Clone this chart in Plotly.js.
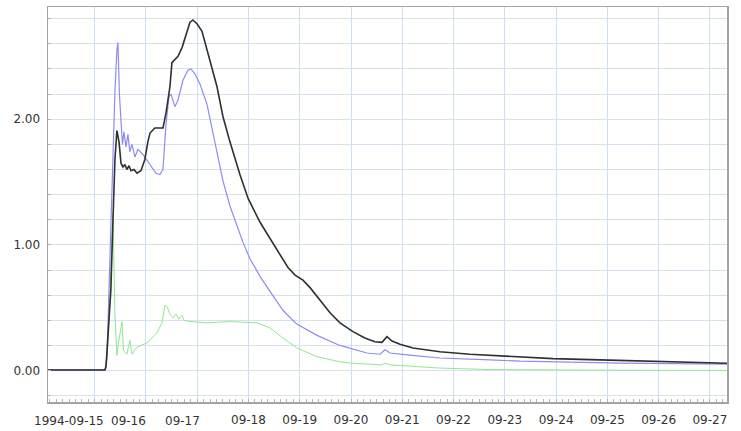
<!DOCTYPE html>
<html>
<head>
<meta charset="utf-8">
<script src="https://cdn.plot.ly/plotly-3.0.1.min.js"></script>
<style>html,body{margin:0;padding:0;background:#fff;}#chart{width:741px;height:431px;}</style>
</head>
<body>
<div id="chart"></div>
<script>
const blackTime = ['1994-09-14 02:00','1994-09-15 04:50','1994-09-15 05:20','1994-09-15 06:10','1994-09-15 07:35','1994-09-15 08:35','1994-09-15 09:30','1994-09-15 10:25','1994-09-15 11:25','1994-09-15 12:20','1994-09-15 13:15','1994-09-15 14:10','1994-09-15 15:05','1994-09-15 16:05','1994-09-15 17:00','1994-09-15 18:25','1994-09-15 19:50','1994-09-15 21:40','1994-09-15 23:30','1994-09-16 00:55','1994-09-16 01:55','1994-09-16 04:10','1994-09-16 08:00','1994-09-16 09:25','1994-09-16 11:15','1994-09-16 12:10','1994-09-16 15:00','1994-09-16 16:55','1994-09-16 18:50','1994-09-16 20:35','1994-09-16 22:00','1994-09-16 23:55','1994-09-17 02:15','1994-09-17 05:30','1994-09-17 09:15','1994-09-17 12:05','1994-09-17 15:20','1994-09-17 20:00','1994-09-17 23:50','1994-09-18 05:25','1994-09-18 10:05','1994-09-18 14:50','1994-09-18 18:30','1994-09-18 21:50','1994-09-19 01:30','1994-09-19 04:50','1994-09-19 09:30','1994-09-19 14:10','1994-09-19 18:50','1994-09-20 00:55','1994-09-20 06:30','1994-09-20 11:10','1994-09-20 14:30','1994-09-20 16:50','1994-09-20 19:10','1994-09-20 22:55','1994-09-21 05:00','1994-09-21 17:40','1994-09-22 07:40','1994-09-22 23:05','1994-09-23 22:30','1994-09-24 20:30','1994-09-25 20:00','1994-09-26 19:20','1994-09-27 08:00'];
const blackValue = [0.005,0.005,0.03,0.25,0.64,1.2,1.68,1.91,1.82,1.65,1.62,1.64,1.60,1.63,1.59,1.60,1.57,1.59,1.68,1.82,1.89,1.93,1.93,2.05,2.26,2.45,2.50,2.57,2.68,2.77,2.79,2.76,2.70,2.50,2.26,2.02,1.82,1.56,1.37,1.18,1.05,0.92,0.82,0.76,0.72,0.66,0.56,0.46,0.38,0.31,0.26,0.23,0.225,0.27,0.235,0.21,0.18,0.15,0.13,0.115,0.095,0.085,0.073,0.063,0.058];

const blueTime = ['1994-09-14 02:00','1994-09-15 04:50','1994-09-15 05:45','1994-09-15 07:10','1994-09-15 08:35','1994-09-15 09:30','1994-09-15 10:25','1994-09-15 10:55','1994-09-15 11:35','1994-09-15 12:20','1994-09-15 13:00','1994-09-15 13:43','1994-09-15 14:40','1994-09-15 15:35','1994-09-15 16:30','1994-09-15 17:28','1994-09-15 18:52','1994-09-15 20:16','1994-09-15 22:36','1994-09-16 01:53','1994-09-16 04:41','1994-09-16 06:34','1994-09-16 07:58','1994-09-16 09:22','1994-09-16 10:47','1994-09-16 11:43','1994-09-16 13:35','1994-09-16 14:59','1994-09-16 17:20','1994-09-16 19:40','1994-09-16 21:05','1994-09-16 22:57','1994-09-17 01:18','1994-09-17 04:34','1994-09-17 07:23','1994-09-17 09:43','1994-09-17 12:04','1994-09-17 15:20','1994-09-17 18:37','1994-09-17 21:26','1994-09-18 00:42','1994-09-18 05:24','1994-09-18 10:05','1994-09-18 16:07','1994-09-18 20:48','1994-09-18 22:40','1994-09-19 08:05','1994-09-19 18:48','1994-09-20 07:30','1994-09-20 13:35','1994-09-20 15:55','1994-09-20 18:15','1994-09-21 02:15','1994-09-21 17:40','1994-09-22 17:00','1994-09-23 07:05','1994-09-25 05:55','1994-09-27 08:00'];
const blueValue = [0.005,0.005,0.1,0.9,1.8,2.22,2.55,2.61,2.2,1.92,1.80,1.90,1.78,1.88,1.74,1.80,1.70,1.76,1.72,1.64,1.57,1.56,1.60,1.95,2.18,2.20,2.10,2.15,2.31,2.39,2.40,2.36,2.28,2.12,1.88,1.70,1.51,1.31,1.15,1.02,0.89,0.75,0.63,0.48,0.40,0.37,0.28,0.20,0.14,0.13,0.165,0.14,0.125,0.10,0.085,0.075,0.06,0.052];

const greenTime = ['1994-09-14 02:00','1994-09-15 04:50','1994-09-15 06:10','1994-09-15 07:35','1994-09-15 08:35','1994-09-15 09:30','1994-09-15 10:25','1994-09-15 11:25','1994-09-15 12:50','1994-09-15 13:30','1994-09-15 15:05','1994-09-15 16:30','1994-09-15 17:30','1994-09-15 18:55','1994-09-15 20:15','1994-09-16 00:30','1994-09-16 05:10','1994-09-16 07:30','1994-09-16 08:55','1994-09-16 09:50','1994-09-16 11:15','1994-09-16 12:40','1994-09-16 14:05','1994-09-16 15:30','1994-09-16 16:55','1994-09-16 17:50','1994-09-16 20:35','1994-09-17 04:35','1994-09-17 15:20','1994-09-18 04:00','1994-09-18 10:05','1994-09-18 16:05','1994-09-18 22:40','1994-09-19 08:05','1994-09-19 18:50','1994-09-19 23:35','1994-09-20 14:30','1994-09-20 15:55','1994-09-20 18:15','1994-09-21 17:40','1994-09-22 17:00','1994-09-24 20:30','1994-09-27 08:00'];
const greenValue = [0.003,0.003,0.2,0.8,1.25,0.45,0.12,0.25,0.39,0.16,0.13,0.24,0.13,0.17,0.19,0.22,0.30,0.38,0.52,0.51,0.45,0.42,0.45,0.41,0.44,0.40,0.39,0.38,0.39,0.38,0.34,0.26,0.18,0.11,0.07,0.06,0.045,0.06,0.045,0.02,0.008,0.003,0.0];

const xTickVals = ['1994-09-15','1994-09-16','1994-09-17','1994-09-18','1994-09-19','1994-09-20','1994-09-21','1994-09-22','1994-09-23','1994-09-24','1994-09-25','1994-09-26','1994-09-27'];
const xTickText = ['1994-09-15','09-16','09-17','09-18','09-19','09-20','09-21','09-22','09-23','09-24','09-25','09-26','09-27'];
const yTickVals = [0, 1, 2];
const yTickText = ['0.00', '1.00', '2.00'];

// the first three day labels sit left of their grid lines in the reference
const shiftedLabelCount = 3;
const shiftedLabelOffset = [-26, -17, -15];

const traces = [
  {x: greenTime, y: greenValue, type: 'scatter', mode: 'lines', line: {color: '#8fe88f', width: 1}, hoverinfo: 'none'},
  {x: blueTime, y: blueValue, type: 'scatter', mode: 'lines', line: {color: '#8c8cf2', width: 1.2}, hoverinfo: 'none'},
  {x: blackTime, y: blackValue, type: 'scatter', mode: 'lines', line: {color: '#303030', width: 1.6}, hoverinfo: 'none'}
];

const font = {family: 'DejaVu Sans, Verdana, sans-serif', size: 12, color: '#333'};

const tickTextShown = xTickText.map((t, i) => i < shiftedLabelCount ? '' : t);
const annotations = xTickVals.slice(0, shiftedLabelCount).map((v, i) => ({
  x: v, xref: 'x', y: 0, yref: 'paper', yanchor: 'top', xanchor: 'center',
  yshift: -10, xshift: shiftedLabelOffset[i], showarrow: false,
  text: xTickText[i], font: font
}));

const layout = {
  width: 741, height: 431,
  margin: {l: 48, r: 14, t: 7, b: 29, pad: 0},
  paper_bgcolor: '#fff', plot_bgcolor: '#fff',
  showlegend: false,
  font: font,
  annotations: annotations,
  xaxis: {
    type: 'date',
    range: ['1994-09-14 02:10', '1994-09-27 08:00'],
    tickmode: 'array', tickvals: xTickVals, ticktext: tickTextShown,
    tickangle: 0,
    showgrid: true, gridcolor: '#cddff5', gridwidth: 1,
    showline: true, linecolor: '#a3a3a3', linewidth: 1.5, mirror: true,
    ticks: '', ticklabelstandoff: 6,
    tickfont: font,
    zeroline: false,
    minor: {dtick: 3 * 3600 * 1000, ticks: 'inside', ticklen: 3, tickcolor: '#b5b5b5', showgrid: false}
  },
  yaxis: {
    range: [-0.25, 2.893],
    tickmode: 'array', tickvals: yTickVals, ticktext: yTickText,
    showgrid: true, gridcolor: '#d6e2ef', gridwidth: 1,
    showline: true, linecolor: '#a3a3a3', linewidth: 1.5, mirror: true,
    ticks: '', ticklabelstandoff: 4,
    tickfont: font,
    zeroline: false,
    minor: {tickmode: 'linear', tick0: 0, dtick: 0.2, showgrid: true, gridcolor: '#d6e2ef', ticks: 'inside', ticklen: 3, tickcolor: '#b5b5b5'}
  }
};

Plotly.newPlot('chart', traces, layout, {displayModeBar: false, staticPlot: true});
</script>
</body>
</html>
